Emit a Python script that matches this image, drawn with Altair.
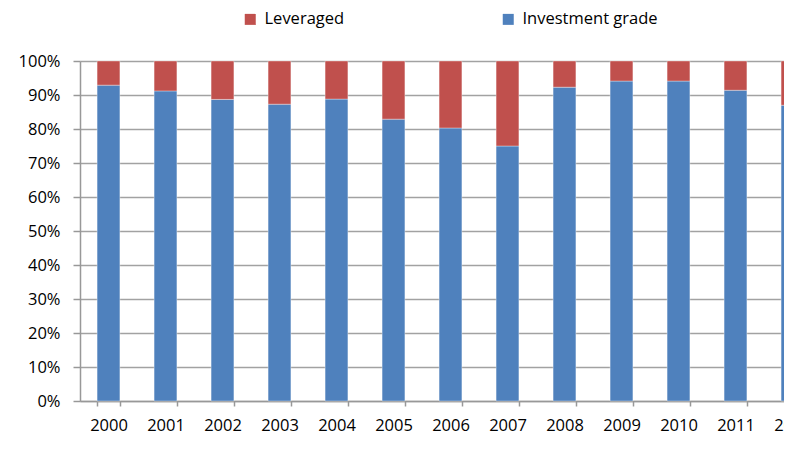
import altair as alt
import pandas as pd

years = ["2000", "2001", "2002", "2003", "2004", "2005", "2006",
         "2007", "2008", "2009", "2010", "2011", "2012 1H"]
investment_grade = [92.9, 91.2, 88.7, 87.3, 88.8, 82.9, 80.3,
                    75.0, 92.3, 94.1, 94.1, 91.4, 87.0]
leveraged = [7.1, 8.8, 11.3, 12.7, 11.2, 17.1, 19.7,
             25.0, 7.7, 5.9, 5.9, 8.6, 13.0]
series_names = ["Leveraged", "Investment grade"]
series_colors = ["#C0504D", "#4F81BD"]
y_ticks = [0, 10, 20, 30, 40, 50, 60, 70, 80, 90, 100]

rows = []
for i, y in enumerate(years):
    rows.append({"category": y, "series": "Investment grade",
                 "value": investment_grade[i], "stackorder": 0})
    rows.append({"category": y, "series": "Leveraged",
                 "value": leveraged[i], "stackorder": 1})
df = pd.DataFrame(rows)

FONT = "Open Sans"

chart = alt.Chart(df).mark_bar(
    stroke="white", strokeWidth=1, strokeOpacity=0.35
).encode(
    x=alt.X("category:N", sort=years,
            scale=alt.Scale(paddingInner=0.6, paddingOuter=0.3, range=[0, 741]),
            axis=alt.Axis(title=None, labelAngle=0, tickBand="extent",
                          labelExpr="split(datum.label, ' ')",
                          labelLineHeight=25, labelBaseline="top",
                          tickSize=5, labelPadding=11, grid=False)),
    y=alt.Y("value:Q", stack="zero",
            scale=alt.Scale(domain=[0, 100], nice=False),
            axis=alt.Axis(title=None, values=y_ticks,
                          labelExpr="datum.value + '%'",
                          tickSize=7, labelPadding=13, grid=True)),
    color=alt.Color("series:N",
                    scale=alt.Scale(domain=series_names, range=series_colors),
                    legend=alt.Legend(orient="none", legendX=162, legendY=-50,
                                      direction="horizontal", title=None,
                                      symbolType="square", symbolSize=121,
                                      symbolStrokeWidth=0, symbolOpacity=1,
                                      labelFontSize=16.5, labelFont=FONT,
                                      labelColor="#000000", labelOffset=6,
                                      labelLimit=300,
                                      columnPadding=155, padding=0)),
    order=alt.Order("stackorder:Q"),
).properties(
    width=704, height=340,
    autosize=alt.AutoSizeParams(type="none"),
    padding={"left": 72, "top": 53, "right": 0, "bottom": 44},
).configure_axis(
    labelFont=FONT, labelFontSize=16.5, labelColor="#000000",
    domainColor="#989898", domainWidth=1.5,
    tickColor="#989898", tickWidth=1.5,
    gridColor="#a2a2a2", gridWidth=1.5,
).configure_view(
    stroke=None
)

chart.save("out.html", embed_options={"renderer": "svg", "actions": False})
